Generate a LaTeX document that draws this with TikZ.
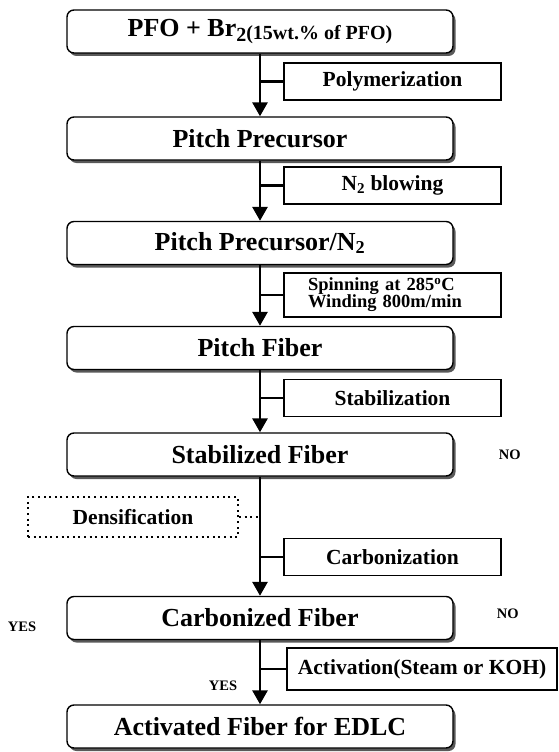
\documentclass[tikz,border=0pt]{standalone}
\usepackage{fontspec}
\setmainfont{Liberation Serif}
\usetikzlibrary{arrows.meta}
\usetikzlibrary{positioning}
\usetikzlibrary{shadows}

\begin{document}
\begin{tikzpicture}[x=1pt,y=-1pt,
    stage/.style={draw,line width=1.4pt,rounded corners=7pt,fill=white,
      minimum width=386pt,minimum height=43pt,inner sep=0pt,
      font=\fontsize{26}{28}\selectfont\bfseries,
      drop shadow={shadow xshift=2.5pt,shadow yshift=-3pt,fill=black!65,opacity=1}},
    proc/.style={draw,line width=1.1pt,fill=white,minimum width=217pt,
      minimum height=37pt,inner sep=2pt,
      font=\fontsize{21.5}{21.5}\selectfont\bfseries},
    densbox/.style={draw,line width=2.2pt,dash pattern=on 2pt off 3.6pt,
      minimum width=210pt,minimum height=40pt,
      font=\fontsize{21.5}{21.5}\selectfont\bfseries},
    answer/.style={font=\fontsize{14.5}{15}\selectfont\bfseries,inner sep=0pt},
    flow/.style={draw,line width=2.8pt,-{Triangle[width=15pt,length=14pt]}},
    branch/.style={draw,line width=2.8pt}]

  \useasboundingbox (0,0) rectangle (558,752);

  % main stages
  \node [stage] (pfo)   at (260,31.5)  {PFO + Br\raisebox{-5pt}{\fontsize{20}{20}\selectfont 2}\raisebox{-2.5pt}{\fontsize{20}{20}\selectfont(15wt.\% of PFO)}};
  \node [stage] (prec)  at (260,138.5) {Pitch Precursor};
  \node [stage] (precn) at (260,243)   {Pitch Precursor/N\textsubscript{2}};
  \node [stage] (pfib)  at (260,348)   {Pitch Fiber};
  \node [stage] (sfib)  at (260,454.5) {Stabilized Fiber};
  \node [stage] (cfib)  at (260,618)   {Carbonized Fiber};
  \node [stage] (afib)  at (260,726.5) {Activated Fiber for EDLC};

  % treatments
  \node [proc] (poly) at (392.5,81.5) {Polymerization};
  \node [proc] (blow) at (392.5,185.5) {N\textsubscript{2} blowing};
  \node [proc,minimum height=44pt,text width=169pt,align=left,
    font=\fontsize{18.5}{17}\selectfont\bfseries]
    (spin) at (392.5,295) {Spinning at 285\textsuperscript{o}C\\Winding 800m/min};
  \node [proc] (stab) at (392.5,398) {Stabilization};
  \node [proc] (carb) at (392.5,557) {Carbonization};
  \node [proc,minimum width=270pt,minimum height=42pt] (act) at (422,669) {Activation(Steam or KOH)};

  \node [densbox] (dens) at (133,517) {Densification};

  % decisions
  \node [answer,right=45pt of sfib] (no_s) {NO};
  \node [answer,right=43pt of cfib.east,yshift=4pt] (no_c) {NO};
  \node [answer,left=30pt of cfib,yshift=-9pt] (yes_c) {YES};
  \node [answer] (yes_a) at (223,686) {YES};

  \path [flow]
    (pfo)   edge (prec)
    (prec)  edge (precn)
    (precn) edge (pfib)
    (pfib)  edge (sfib)
    (sfib)  edge (cfib)
    (cfib)  edge (afib);

  \path [branch]
    (poly.west -| pfo.south)  edge (poly.west)
    (blow.west -| pfo.south)  edge (blow.west)
    (spin.west -| pfo.south)  edge (spin.west)
    (stab.west -| pfo.south)  edge (stab.west)
    (carb.west -| pfo.south)  edge (carb.west)
    (act.west -| pfo.south)   edge (act.west);

  \draw [line width=2.2pt,dash pattern=on 2pt off 3.6pt]
    (dens.east) -- (dens.east -| sfib.south);

\end{tikzpicture}
\end{document}
